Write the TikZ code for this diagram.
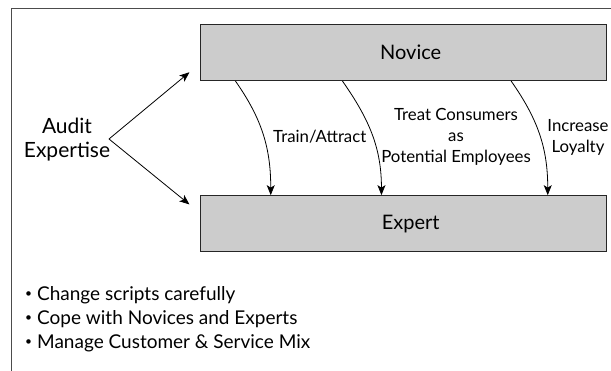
\documentclass[tikz,border=0pt]{standalone}
\usepackage{fontspec}
\setmainfont{Lato}
\usetikzlibrary{arrows.meta}

\newcommand{\dotmark}{\raisebox{2.5pt}{\fontsize{12}{12}\selectfont•}\hspace{5pt}}

\begin{document}
\begin{tikzpicture}[x=1pt, y=1pt,
    stage/.style={draw=black!85, line width=1.1pt, fill=black!20, minimum width=406pt, minimum height=56pt, font=\fontsize{20}{24}\selectfont},
    flow/.style={line width=0.8pt, -{Stealth[length=10pt, width=8pt, inset=2.5pt]}},
    lbl/.style={align=center, inner sep=0pt, font=\fontsize{16.8}{20.8}\selectfont}]
    \clip (0,0) rectangle (611,370);
    \useasboundingbox (0,0) rectangle (611,370);
    % Frame (cut off at right and bottom)
    \draw[black!70, line width=1pt] (11,-20) rectangle (700,361.7);

    % Objects
    \node[stage] (novice) at (403.7,317.5) {\hspace*{14pt}Novice};
    \node[stage] (expert) at (403.7,146.3) {\hspace*{14pt}Expert};
    \node[lbl, font=\fontsize{21}{24}\selectfont] (audit) at (67,230) {Audit\\Expertise};
    \coordinate (fork) at (109,231);

    % Links
    \draw[flow] (fork) -- ([xshift=-10.7pt, yshift=8.8pt]novice.south west);
    \draw[flow] (fork) -- ([xshift=-10.7pt, yshift=-9.3pt]expert.north west);
    \draw[flow] ([xshift=35.3pt]novice.south west) to[out=-55, in=90] ([xshift=70.6pt]expert.north west);
    \draw[flow] ([xshift=142.3pt]novice.south west) to[out=-55, in=90] ([xshift=181.3pt]expert.north west);
    \draw[flow] ([xshift=311pt]novice.south west) to[out=-55, in=90] ([xshift=347.6pt]expert.north west);

    % Labels on the links
    \node[lbl, anchor=west] (train) at (273,233) {Train/Attract};
    \node[lbl] (treat) at (456,233) {Treat Consumers\\as\\Potential Employees};
    \node[lbl] (loyal) at (578,232.5) {Increase\\Loyalty};

    % Notes
    \node[lbl, align=left, anchor=base west, font=\fontsize{19}{24}\selectfont] (notes) at (25,22)
        {\dotmark Change scripts carefully\\\dotmark Cope with Novices and Experts\\\dotmark Manage Customer \& Service Mix};
\end{tikzpicture}
\end{document}
